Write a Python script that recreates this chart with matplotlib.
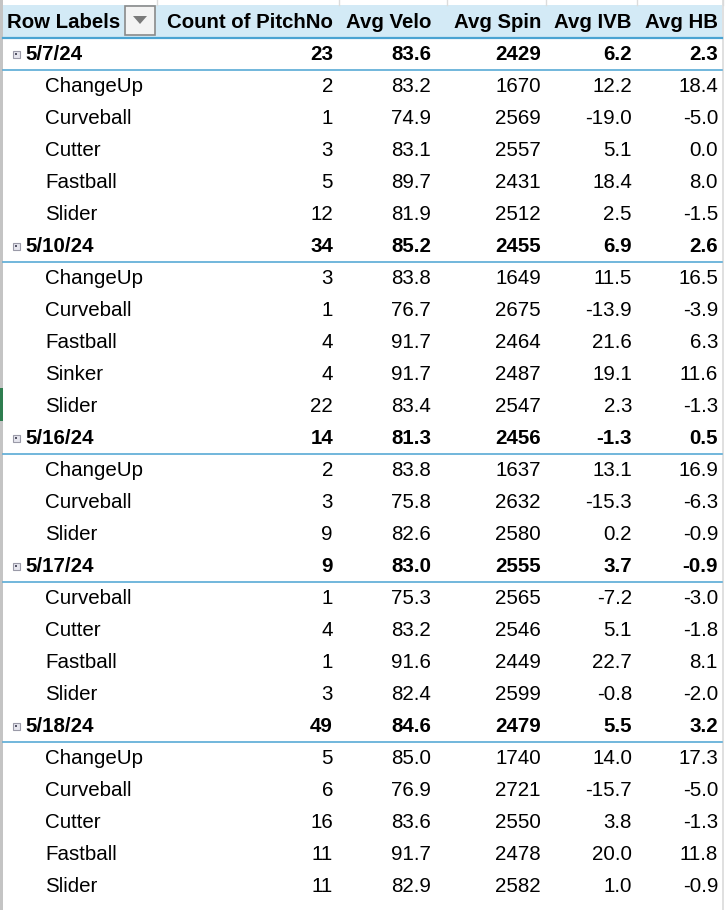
import matplotlib
matplotlib.use("Agg")
import matplotlib.pyplot as plt
from matplotlib.patches import Rectangle, Polygon

headers = ["Row Labels", "Count of PitchNo", "Avg Velo", "Avg Spin", "Avg IVB", "Avg HB"]

dates = ["5/7/24", "5/10/24", "5/16/24", "5/17/24", "5/18/24"]
date_count = [23, 34, 14, 9, 49]
date_velo = [83.6, 85.2, 81.3, 83.0, 84.6]
date_spin = [2429, 2455, 2456, 2555, 2479]
date_ivb = [6.2, 6.9, -1.3, 3.7, 5.5]
date_hb = [2.3, 2.6, 0.5, -0.9, 3.2]

pitches = [
    ["ChangeUp", "Curveball", "Cutter", "Fastball", "Slider"],
    ["ChangeUp", "Curveball", "Fastball", "Sinker", "Slider"],
    ["ChangeUp", "Curveball", "Slider"],
    ["Curveball", "Cutter", "Fastball", "Slider"],
    ["ChangeUp", "Curveball", "Cutter", "Fastball", "Slider"],
]
pitch_count = [[2, 1, 3, 5, 12], [3, 1, 4, 4, 22], [2, 3, 9], [1, 4, 1, 3], [5, 6, 16, 11, 11]]
pitch_velo = [[83.2, 74.9, 83.1, 89.7, 81.9], [83.8, 76.7, 91.7, 91.7, 83.4], [83.8, 75.8, 82.6],
              [75.3, 83.2, 91.6, 82.4], [85.0, 76.9, 83.6, 91.7, 82.9]]
pitch_spin = [[1670, 2569, 2557, 2431, 2512], [1649, 2675, 2464, 2487, 2547], [1637, 2632, 2580],
              [2565, 2546, 2449, 2599], [1740, 2721, 2550, 2478, 2582]]
pitch_ivb = [[12.2, -19.0, 5.1, 18.4, 2.5], [11.5, -13.9, 21.6, 19.1, 2.3], [13.1, -15.3, 0.2],
             [-7.2, 5.1, 22.7, -0.8], [14.0, -15.7, 3.8, 20.0, 1.0]]
pitch_hb = [[18.4, -5.0, 0.0, 8.0, -1.5], [16.5, -3.9, 6.3, 11.6, -1.3], [16.9, -6.3, -0.9],
            [-3.0, -1.8, 8.1, -2.0], [17.3, -5.0, -1.3, 11.8, -0.9]]

W, H = 728, 910
fig = plt.figure(figsize=(W / 100, H / 100), dpi=100)
ax = fig.add_axes([0, 0, 1, 1])
ax.set_xlim(0, W)
ax.set_ylim(H, 0)
ax.axis("off")

FONT = ["Liberation Sans", "DejaVu Sans"]
FS = 14.8
FSH = 14.7
col_right = [333, 431, 541, 632, 718]
blue = "#4aa3d2"

# header background
ax.add_patch(Rectangle((3, 5), 719, 33, facecolor="#d3eaf6", edgecolor="none", zorder=1))
# grid lines above header
for gx in [157, 339, 447, 546, 637, 723]:
    ax.plot([gx, gx], [0, 5], color="#dcdcdc", lw=1, zorder=2)
# right border
ax.plot([723, 723], [0, H], color="#dadada", lw=1.2, zorder=2)
# left border
ax.add_patch(Rectangle((0, 0), 2.5, H, facecolor="#c4c4c4", edgecolor="none", zorder=2))
ax.add_patch(Rectangle((0, 388), 2.5, 33, facecolor="#2e7d4f", edgecolor="none", zorder=3))

# header text
hy = 22
ax.text(7, hy, headers[0], ha="left", va="center", fontsize=FSH, fontweight="bold", family=FONT, zorder=5)
for j, h in enumerate(headers[1:]):
    ax.text(col_right[j], hy, h, ha="right", va="center", fontsize=FSH, fontweight="bold", family=FONT, zorder=5)
# dropdown button
ax.add_patch(Rectangle((125, 5.5), 30, 29, facecolor="#f3f3f3", edgecolor="#8a8a8a", lw=1.2, zorder=4))
ax.add_patch(Polygon([[133, 16], [147, 16], [140, 24]], closed=True, facecolor="#7a7a7a", edgecolor="none", zorder=5))
ax.plot([3, 722], [38, 38], color=blue, lw=1.6, zorder=4)

row = 0
for i, d in enumerate(dates):
    y = 54 + 32 * row
    # expand icon
    ax.add_patch(Rectangle((12.5, y - 3.5), 7, 7, facecolor="#e6e6ee", edgecolor="#9a9aa8", lw=0.8, zorder=4))
    ax.add_patch(Rectangle((15, y - 1), 2, 2, facecolor="#555566", edgecolor="none", zorder=5))
    ax.text(25, y, d, ha="left", va="center", fontsize=FS, fontweight="bold", family=FONT, zorder=5)
    vals = [f"{date_count[i]}", f"{date_velo[i]:.1f}", f"{date_spin[i]}", f"{date_ivb[i]:.1f}", f"{date_hb[i]:.1f}"]
    for j, v in enumerate(vals):
        ax.text(col_right[j], y, v, ha="right", va="center", fontsize=FS, fontweight="bold", family=FONT, zorder=5)
    ax.plot([3, 722], [y + 16, y + 16], color=blue, lw=1.1, zorder=4)
    row += 1
    for k, p in enumerate(pitches[i]):
        y = 54 + 32 * row
        ax.text(45, y, p, ha="left", va="center", fontsize=FS, family=FONT, zorder=5)
        vals = [f"{pitch_count[i][k]}", f"{pitch_velo[i][k]:.1f}", f"{pitch_spin[i][k]}",
                f"{pitch_ivb[i][k]:.1f}", f"{pitch_hb[i][k]:.1f}"]
        for j, v in enumerate(vals):
            ax.text(col_right[j], y, v, ha="right", va="center", fontsize=FS, family=FONT, zorder=5)
        row += 1

fig.savefig("out.png", dpi=100, facecolor="white")
